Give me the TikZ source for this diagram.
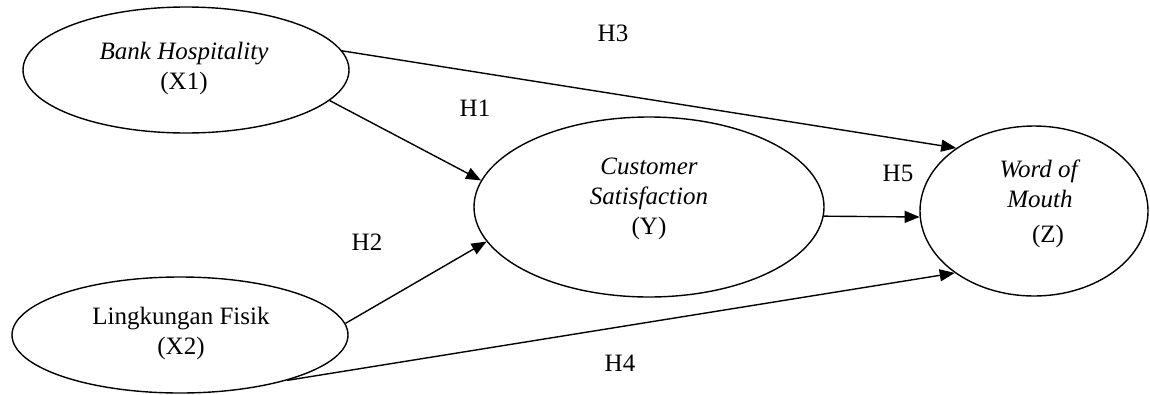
\documentclass[tikz,border=0pt]{standalone}
\usepackage{fontspec}
\setmainfont{Liberation Serif}
\usetikzlibrary{shapes.geometric,arrows.meta}
\begin{document}
\begin{tikzpicture}[x=1pt,y=-1pt,
  latent/.style={draw, ellipse, line width=1.4pt, inner sep=0pt},
  txt/.style={align=center, inner sep=0pt, font=\fontsize{25}{30}\selectfont},
  hyp/.style={inner sep=0pt, font=\fontsize{25}{30}\selectfont},
  path/.style={line width=1.4pt, -{Triangle[length=15pt,width=12pt]}}]
\useasboundingbox (0,0) rectangle (1150,394);
\node[latent, minimum width=326pt, minimum height=126pt] (X1) at (186,70) {};
\node[latent, minimum width=336pt, minimum height=116pt] (X2) at (180,335) {};
\node[latent, minimum width=350pt, minimum height=180pt] (Y) at (649,207) {};
\node[latent, minimum width=228pt, minimum height=170pt] (Z) at (1034,211) {};
\node[txt] (tX1) at (184,68) {\textit{Bank Hospitality}\\(X1)};
\node[txt] (tX2) at (181,333) {Lingkungan Fisik\\(X2)};
\node[txt] (tY) at (649,199) {\textit{Customer}\\\textit{Satisfaction}\\(Y)};
\node[txt, anchor=north] (tZ1) at (1040,160) {\textit{Word of}\\\textit{Mouth}};
\node[txt] (tZ2) at (1048,236) {(Z)};
\draw[path] (X1.7.4) -- (Z.141.5);
\draw[path] (X1.-12.3) -- (Y.171.8);
\draw[path] (X2.4.6) -- (Y.-168.2);
\draw[path] (X2.-23.7) -- (Z.-142.8);
\draw[path] (Y.-3.3) -- (Z.183);
\node[hyp] (H1) at (475,108) {H1};
\node[hyp] (H2) at (367,242) {H2};
\node[hyp] (H3) at (613,33) {H3};
\node[hyp] (H4) at (620,363) {H4};
\node[hyp] (H5) at (898,173) {H5};
\end{tikzpicture}
\end{document}
